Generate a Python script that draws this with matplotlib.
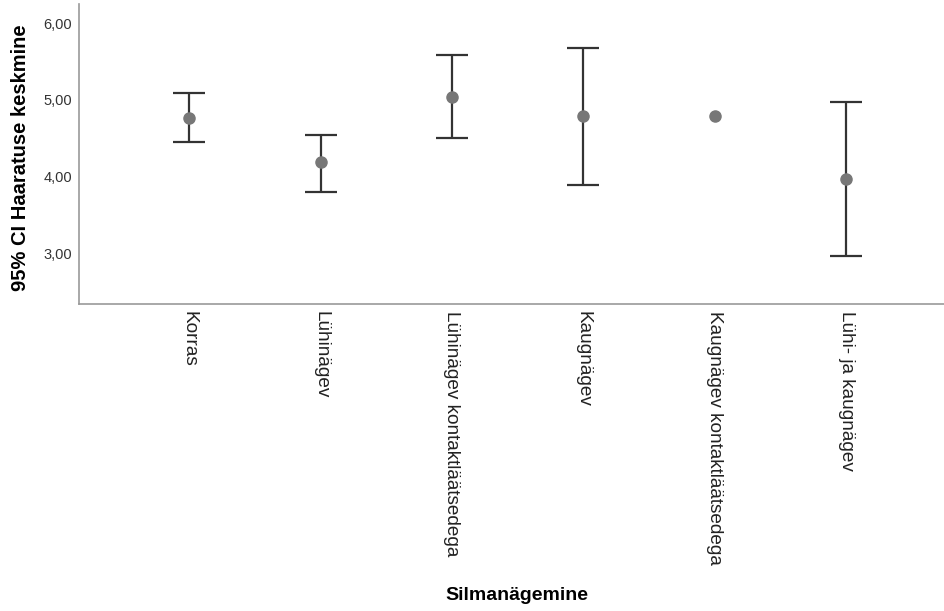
import matplotlib
matplotlib.use("Agg")
import matplotlib.pyplot as plt
import numpy as np

categories = ["Korras", "Lühinägev", "Lühinägev kontaktläätsedega", "Kaugnägev",
              "Kaugnägev kontaktläätsedega", "Lühi- ja kaugnägev"]
means = [4.77, 4.19, 5.04, 4.79, 4.79, 3.98]
ci_low = [4.45, 3.81, 4.50, 3.90, np.nan, 2.98]
ci_high = [5.09, 4.55, 5.58, 5.68, np.nan, 4.98]
yticks = [3.0, 4.0, 5.0, 6.0]

plt.rcParams["font.family"] = ["Liberation Sans", "DejaVu Sans"]

fig = plt.figure(figsize=(9.45, 6.11), dpi=100)
ax = fig.add_axes([79 / 945, 1 - 304 / 611, 1 - 79 / 945, 300 / 611])

x = np.arange(len(categories))
means = np.array(means)
lo = np.array(ci_low)
hi = np.array(ci_high)
has_ci = ~np.isnan(lo)
ax.errorbar(x[has_ci], means[has_ci],
            yerr=[means[has_ci] - lo[has_ci], hi[has_ci] - means[has_ci]],
            fmt="none", ecolor="#333333", elinewidth=1.6, capsize=11.5, capthick=1.6,
            zorder=2)
ax.plot(x, means, "o", color="#777777", markersize=8, zorder=3)

ax.set_xlim(-0.837, 5.75)
ax.set_ylim(2.35, 6.247)
ax.set_yticks(yticks)
ax.set_yticklabels([f"{v:.2f}".replace(".", ",") for v in yticks])
ax.set_xticks(x)
ax.set_xticklabels(categories, rotation=-90, va="top", ha="center")
ax.tick_params(axis="y", length=0, pad=5, labelsize=10.5, labelcolor="#333333")
ax.tick_params(axis="x", length=0, pad=5, labelsize=13.7, labelcolor="#222222")

for side in ["top", "right"]:
    ax.spines[side].set_visible(False)
for side in ["left", "bottom"]:
    ax.spines[side].set_color("#999999")
    ax.spines[side].set_linewidth(1.2)

fig.text(21 / 945, 1 - 158 / 611, "95% CI Haaratuse keskmine", fontsize=14.5,
         fontweight="bold", rotation=90, ha="center", va="center")
fig.text(517 / 945, 1 - 595 / 611, "Silmanägemine", fontsize=14, fontweight="bold",
         ha="center", va="center")

fig.savefig("out.png", dpi=100)
